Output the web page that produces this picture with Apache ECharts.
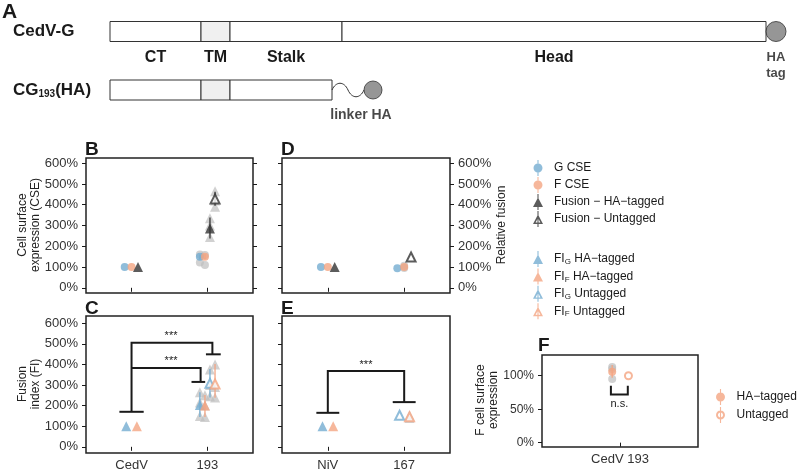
<!DOCTYPE html>
<html>
<head>
<meta charset="utf-8">
<script src="https://cdn.jsdelivr.net/npm/echarts@6/dist/echarts.min.js"></script>
<style>
  html, body { margin: 0; padding: 0; background: #fff; }
  #chart { width: 800px; height: 472px; }
</style>
</head>
<body>
<div id="chart"></div>
<script>
// ---------------- data ----------------
// panel A: schematic, domain boundaries along the bar (arbitrary length units)
const cedvDomains = [['CT', 0, 91], ['TM', 91, 120], ['Stalk', 120, 232], ['Head', 232, 656]]
const cg193Domains = [['CT', 0, 91], ['TM', 91, 120], ['Stalk', 120, 222]]
const linkerLen = 32

// panel B: CSE + fusion, CedV vs 193  (values in %)
const bCats = ['CedV', '193']
const bGMean = [100, 150]
const bGErr = [null, [138, 160]]
const bGRaw = [[], [160, 122]]
const bGDodge = [-0.09, -0.1]
const bFMean = [100, 150]
const bFErr = [null, [136, 162]]
const bFRaw = [[], [110, 158]]
const bFDodge = [0, -0.033]
const bFusHAMean = [100, 285]
const bFusHAErr = [null, [238, 338]]
const bFusHARaw = [[], [335, 300, 245]]
const bFusHADodge = [0.085, 0.033]
const bFusUnMean = [null, 428]
const bFusUnErr = [null, [395, 462]]
const bFusUnRaw = [[], [465, 420, 390]]
const bFusUnDodge = [0, 0.1]

// panel D: CSE + fusion, NiV vs 167
const dCats = ['NiV', '167']
const dGMean = [100, 94]
const dGDodge = [-0.09, -0.09]
const dFMean = [100, 100]
const dFRaw = [[], [106, 95]]
const dFDodge = [0, 0]
const dFusHAMean = [100, null]
const dFusHADodge = [0.09, 0]
const dFusUnMean = [null, 148]
const dFusUnDodge = [0, 0.09]

// panel C: fusion index, CedV vs 193
const cCats = ['CedV', '193']
const cGHAMean = [100, 203]
const cGHAErr = [null, [145, 265]]
const cGHARaw = [[], [265, 215, 150]]
const cGHADodge = [-0.07, -0.1]
const cFHAMean = [100, 200]
const cFHAErr = [null, [145, 252]]
const cFHARaw = [[], [250, 200, 145]]
const cFHADodge = [0.07, -0.033]
const cGUnMean = [null, 308]
const cGUnErr = [null, [240, 378]]
const cGUnRaw = [[], [375, 300, 245]]
const cGUnDodge = [0, 0.033]
const cFUnMean = [null, 305]
const cFUnErr = [null, [238, 402]]
const cFUnRaw = [[], [400, 290, 240]]
const cFUnDodge = [0, 0.1]
// brackets: x1, x2, top, foot1, foot2, cap1 from, cap1 to, cap2 from, cap2 to
const cBrackets = [
  [1, 2.065, 505, 170, 449, 0.84, 1.16, 1.98, 2.175],
  [1, 1.91, 383, 383, 315, 1, 1, 1.79, 1.97]
]
const cBracketText = ['***', '***']
const cBracketTextX = [1.52, 1.52]

// panel E: fusion index, NiV vs 167
const eCats = ['NiV', '167']
const eGHAMean = [100, null]
const eGHADodge = [-0.07, 0]
const eFHAMean = [100, null]
const eFHADodge = [0.07, 0]
const eGUnMean = [null, 153]
const eGUnDodge = [0, -0.06]
const eFUnMean = [null, 146]
const eFUnRaw = [[], [140, 152]]
const eFUnDodge = [0, 0.07]
const eBrackets = [[1, 2, 368, 165, 217, 0.85, 1.15, 1.85, 2.15]]
const eBracketText = ['***']
const eBracketTextX = [1.5]

// panel F: F cell surface expression
const fCats = ['CedV 193']
const fHAMean = [106]
const fHAErr = [[97, 116]]
const fHARaw = [[113, 110, 95]]
const fHADodge = [-0.06]
const fUnMean = [100]
const fUnDodge = [0.065]
const fBrackets = [[0.93, 1.06, 72, 85, 85, 0.93, 0.93, 1.06, 1.06]]
const fBracketText = ['n.s.']
const fBracketTextX = [0.995]

const pctTicks = [0, 100, 200, 300, 400, 500, 600]
const fTicks = [0, 50, 100]

// ---------------- styles ----------------
const FONT = '"Liberation Sans", Arial, sans-serif'
const INK = '#1a1a1a'
const BLUE = '#74add1'
const ORANGE = '#f4a582'
const DARK = '#333333'
const GREY = '#bdbdbd'

const rawSeries = []
const errSeries = []
const meanSeries = []

function addGroup(p, name, shape, color, hollow, mean, err, raw, dodge) {
  const xs = mean.map((m, i) => i + 1 + dodge[i])
  const size = shape === 'circle' ? 8 : 10
  if (raw) {
    rawSeries.push({
      type: 'scatter', xAxisIndex: p, yAxisIndex: p, symbol: shape, symbolSize: size,
      silent: true, z: 2, itemStyle: { color: GREY, opacity: 0.7 },
      data: raw.flatMap((vals, i) => vals.map(v => [xs[i], v]))
    })
  }
  if (err) {
    errSeries.push({
      type: 'custom', xAxisIndex: p, yAxisIndex: p, silent: true, z: 3,
      data: err.map((e, i) => e && [xs[i], e[0], e[1]]).filter(Boolean),
      renderItem: (params, api) => {
        const a = api.coord([api.value(0), api.value(1)])
        const b = api.coord([api.value(0), api.value(2)])
        return { type: 'line', shape: { x1: a[0], y1: a[1], x2: b[0], y2: b[1] },
          style: { stroke: color, lineWidth: 1.5, opacity: 0.85 } }
      }
    })
  }
  meanSeries.push({
    type: 'scatter', name, xAxisIndex: p, yAxisIndex: p, symbol: shape,
    symbolSize: hollow ? size - 1 : size, z: 4, clip: false,
    itemStyle: hollow ? { color: '#fff', borderColor: color, borderWidth: 2 } : { color },
    data: mean.map((m, i) => m != null && [xs[i], m]).filter(Boolean)
  })
}

function bracketSeries(p, rows, texts, textX, below) {
  return {
    type: 'custom', xAxisIndex: p, yAxisIndex: p, silent: true, z: 5, clip: false,
    data: rows,
    renderItem: (params, api) => {
      const v = i => api.value(i)
      const c = (x, y) => api.coord([x, y])
      const f1 = c(v(0), v(3)), t1 = c(v(0), v(2)), t2 = c(v(1), v(2)), f2 = c(v(1), v(4))
      const a1 = c(v(5), v(3)), b1 = c(v(6), v(3)), a2 = c(v(7), v(4)), b2 = c(v(8), v(4))
      const lab = c(textX[params.dataIndex], v(2))
      const ls = { stroke: INK, lineWidth: 2, fill: null }
      return { type: 'group', children: [
        { type: 'polyline', shape: { points: [f1, t1, t2, f2] }, style: ls },
        { type: 'line', shape: { x1: a1[0], y1: a1[1], x2: b1[0], y2: b1[1] }, style: ls },
        { type: 'line', shape: { x1: a2[0], y1: a2[1], x2: b2[0], y2: b2[1] }, style: ls },
        { type: 'text', x: lab[0], y: lab[1] + (below ? 4 : -1),
          style: { text: texts[params.dataIndex], fill: INK, font: '11px ' + FONT,
            align: 'center', verticalAlign: below ? 'top' : 'bottom' } }
      ] }
    }
  }
}

// panel B
addGroup(1, 'G CSE', 'circle', BLUE, false, bGMean, bGErr, bGRaw, bGDodge)
addGroup(1, 'F CSE', 'circle', ORANGE, false, bFMean, bFErr, bFRaw, bFDodge)
addGroup(1, 'Fusion − HA−tagged', 'triangle', DARK, false, bFusHAMean, bFusHAErr, bFusHARaw, bFusHADodge)
addGroup(1, 'Fusion − Untagged', 'triangle', DARK, true, bFusUnMean, bFusUnErr, bFusUnRaw, bFusUnDodge)
// panel D
addGroup(3, 'G CSE', 'circle', BLUE, false, dGMean, null, null, dGDodge)
addGroup(3, 'F CSE', 'circle', ORANGE, false, dFMean, null, dFRaw, dFDodge)
addGroup(3, 'Fusion − HA−tagged', 'triangle', DARK, false, dFusHAMean, null, null, dFusHADodge)
addGroup(3, 'Fusion − Untagged', 'triangle', DARK, true, dFusUnMean, null, null, dFusUnDodge)
// panel C
addGroup(2, 'FI_G HA−tagged', 'triangle', BLUE, false, cGHAMean, cGHAErr, cGHARaw, cGHADodge)
addGroup(2, 'FI_F HA−tagged', 'triangle', ORANGE, false, cFHAMean, cFHAErr, cFHARaw, cFHADodge)
addGroup(2, 'FI_G Untagged', 'triangle', BLUE, true, cGUnMean, cGUnErr, cGUnRaw, cGUnDodge)
addGroup(2, 'FI_F Untagged', 'triangle', ORANGE, true, cFUnMean, cFUnErr, cFUnRaw, cFUnDodge)
// panel E
addGroup(4, 'FI_G HA−tagged', 'triangle', BLUE, false, eGHAMean, null, null, eGHADodge)
addGroup(4, 'FI_F HA−tagged', 'triangle', ORANGE, false, eFHAMean, null, null, eFHADodge)
addGroup(4, 'FI_G Untagged', 'triangle', BLUE, true, eGUnMean, null, null, eGUnDodge)
addGroup(4, 'FI_F Untagged', 'triangle', ORANGE, true, eFUnMean, null, eFUnRaw, eFUnDodge)
// panel F
addGroup(5, 'HA−tagged', 'circle', ORANGE, false, fHAMean, fHAErr, fHARaw, fHADodge)
addGroup(5, 'Untagged', 'circle', ORANGE, true, fUnMean, null, null, fUnDodge)

// ---------------- panel A (schematic) ----------------
const domainData = cedvDomains.map(d => [d[1], d[2], 0, d[0]])
  .concat(cg193Domains.map(d => [d[1], d[2], 1, '']))
const cedvEnd = cedvDomains[cedvDomains.length - 1][2]
const cgEnd = cg193Domains[cg193Domains.length - 1][2]

const schematicSeries = [
  {
    type: 'custom', xAxisIndex: 0, yAxisIndex: 0, silent: true, clip: false,
    data: domainData,
    renderItem: (params, api) => {
      const row = api.value(2)
      const name = domainData[params.dataIndex][3]
      const p0 = api.coord([api.value(0), row ? 59 : 0.5])
      const p1 = api.coord([api.value(1), row ? 79 : 20.5])
      const kids = [{ type: 'rect', shape: { x: p0[0], y: p0[1], width: p1[0] - p0[0], height: p1[1] - p0[1] },
        style: { fill: name === 'TM' || (row && params.dataIndex === 5) ? '#f0f0f0' : '#fff', stroke: '#333', lineWidth: 1 } }]
      if (name) {
        const lp = api.coord([(api.value(0) + api.value(1)) / 2, 37])
        kids.push({ type: 'text', x: lp[0], y: lp[1],
          style: { text: name, font: 'bold 16px ' + FONT, fill: INK, align: 'center', verticalAlign: 'middle' } })
      }
      return { type: 'group', children: kids }
    }
  },
  {
    // linker wave
    type: 'custom', xAxisIndex: 0, yAxisIndex: 0, silent: true, clip: false,
    data: [[cgEnd, cgEnd + linkerLen, 69]],
    renderItem: (params, api) => {
      const a = api.coord([api.value(0), api.value(2)])
      const b = api.coord([api.value(1), api.value(2)])
      const m = (a[0] + b[0]) / 2, q = (b[0] - a[0]) / 8, y = a[1]
      const d = `M${a[0]},${y} C${a[0] + q},${y - 9} ${m - q},${y - 9} ${m},${y} C${m + q},${y + 9} ${b[0] - q},${y + 9} ${b[0]},${y}`
      return { type: 'path', shape: { pathData: d }, style: { stroke: '#333', lineWidth: 1, fill: null } }
    }
  },
  {
    type: 'scatter', xAxisIndex: 0, yAxisIndex: 0, silent: true, clip: false, symbolSize: 20,
    itemStyle: { color: '#7c7c7c', borderColor: '#333', borderWidth: 1 },
    label: { show: true, position: 'bottom', distance: 7, formatter: 'HA\ntag',
      fontWeight: 'bold', fontSize: 13, color: INK, lineHeight: 16 },
    data: [[cedvEnd + 10, 10.5]]
  },
  {
    type: 'scatter', xAxisIndex: 0, yAxisIndex: 0, silent: true, clip: false, symbolSize: 18,
    itemStyle: { color: '#7c7c7c', borderColor: '#333', borderWidth: 1 },
    label: { show: true, position: 'bottom', distance: 9, offset: [-12, 0], formatter: 'linker HA',
      fontWeight: 'bold', fontSize: 14, color: INK },
    data: [[cgEnd + linkerLen + 9, 69]]
  }
]

// ---------------- axes ----------------
const tickStyle = { show: true, length: 4, lineStyle: { color: INK, width: 1 } }
const labelStyle = { fontSize: 13, color: '#333', fontFamily: FONT }
const boxGrid = { show: true, borderColor: '#222', borderWidth: 1.5, backgroundColor: 'transparent' }

function xAx(p, cats, labeled, max) {
  const ticks = cats.map((c, i) => i + 1)
  return { gridIndex: p, type: 'value', min: 0.4, max,
    axisLine: { show: false }, splitLine: { show: false },
    axisTick: Object.assign({ customValues: ticks }, tickStyle),
    axisLabel: Object.assign({ show: labeled, customValues: ticks, margin: 6,
      formatter: v => cats[Math.round(v) - 1] }, labelStyle) }
}
function yAx(p, min, max, ticks, pos, labeled, fs) {
  return { gridIndex: p, type: 'value', min, max, position: pos,
    axisLine: { show: false }, splitLine: { show: false },
    axisTick: Object.assign({ customValues: ticks }, tickStyle),
    axisLabel: Object.assign({}, labelStyle, { show: labeled, customValues: ticks, margin: 8,
      fontSize: fs || 13, formatter: v => v + '%' }) }
}
// rotated axis titles
const axisTitle = (x, y, text) => ({ type: 'text', x, y, rotation: Math.PI / 2,
  style: { text, font: '12px ' + FONT, fill: '#222', lineHeight: 13, align: 'center', verticalAlign: 'middle' } })

const circleLine = 'path://M0.5,8C0.5,5.5 2.5,3.5 5,3.5C7.5,3.5 9.5,5.5 9.5,8C9.5,10.5 7.5,12.5 5,12.5C2.5,12.5 0.5,10.5 0.5,8Z M4.45,0L5.55,0L5.55,16L4.45,16Z'
const hollowCircleLine = circleLine + ' M2.5,8C2.5,9.4 3.6,10.5 5,10.5C6.4,10.5 7.5,9.4 7.5,8C7.5,6.6 6.4,5.5 5,5.5C3.6,5.5 2.5,6.6 2.5,8Z'
const triLine = 'path://M0,13L5,3.5L10,13Z M4.45,0L5.55,0L5.55,16L4.45,16Z'
const hollowTriLine = triLine + ' M2.6,11.6L7.4,11.6L5,7Z'
const legItem = (name, icon, color) => ({ name, icon, itemStyle: { color, borderWidth: 0 } })
const legBase = { orient: 'vertical', itemWidth: 22, itemHeight: 16, padding: 0, selectedMode: false,
  textStyle: { fontSize: 12, color: INK, fontFamily: FONT, lineHeight: 14,
    rich: { s: { fontSize: 8, fontFamily: FONT, color: INK, verticalAlign: 'bottom', lineHeight: 14 } } } }

const option = {
  animation: false,
  textStyle: { fontFamily: FONT },
  grid: [
    { left: 110, top: 21, width: 656, height: 80 },
    Object.assign({ left: 86, top: 158, width: 167, height: 135 }, boxGrid),
    Object.assign({ left: 86, top: 316, width: 167, height: 137 }, boxGrid),
    Object.assign({ left: 282, top: 158, width: 168, height: 135 }, boxGrid),
    Object.assign({ left: 282, top: 316, width: 168, height: 137 }, boxGrid),
    Object.assign({ left: 542, top: 355, width: 156, height: 92 }, boxGrid)
  ],
  xAxis: [
    { gridIndex: 0, type: 'value', min: 0, max: 656, show: false },
    xAx(1, bCats, false, 2.6),
    xAx(2, cCats, true, 2.6),
    xAx(3, dCats, false, 2.6),
    xAx(4, eCats, true, 2.6),
    xAx(5, fCats, true, 1.6)
  ],
  yAxis: [
    { gridIndex: 0, type: 'value', min: 0, max: 80, inverse: true, show: false },
    yAx(1, -25, 625, pctTicks, 'left', true),
    yAx(2, -30, 635, pctTicks, 'left', true),
    yAx(3, -25, 625, pctTicks, 'left', false),
    yAx(4, -30, 635, pctTicks, 'left', false),
    yAx(5, -6.5, 131, fTicks, 'left', true, 12),
    yAx(1, -25, 625, pctTicks, 'right', false),
    yAx(3, -25, 625, pctTicks, 'right', true)
  ],
  legend: [
    Object.assign({ left: 533, top: 160, itemGap: 1, data: [
      legItem('G CSE', circleLine, BLUE),
      legItem('F CSE', circleLine, ORANGE),
      legItem('Fusion − HA−tagged', triLine, DARK),
      legItem('Fusion − Untagged', hollowTriLine, DARK)
    ] }, legBase),
    Object.assign({ left: 533, top: 251, itemGap: 1.4,
      formatter: n => n.replace(/FI_(G|F)/, 'FI{s|$1}'),
      data: [
        legItem('FI_G HA−tagged', triLine, BLUE),
        legItem('FI_F HA−tagged', triLine, ORANGE),
        legItem('FI_G Untagged', hollowTriLine, BLUE),
        legItem('FI_F Untagged', hollowTriLine, ORANGE)
      ] }, legBase),
    Object.assign({ left: 716, top: 389, itemGap: 2, data: [
      legItem('HA−tagged', circleLine, ORANGE),
      legItem('Untagged', hollowCircleLine, ORANGE)
    ] }, legBase)
  ],
  graphic: [
    { type: 'text', left: 2, top: 2, style: { text: 'A', font: 'bold 21px ' + FONT, fill: INK } },
    { type: 'text', left: 85, top: 140, style: { text: 'B', font: 'bold 19px ' + FONT, fill: INK } },
    { type: 'text', left: 85, top: 299, style: { text: 'C', font: 'bold 19px ' + FONT, fill: INK } },
    { type: 'text', left: 281, top: 140, style: { text: 'D', font: 'bold 19px ' + FONT, fill: INK } },
    { type: 'text', left: 281, top: 299, style: { text: 'E', font: 'bold 19px ' + FONT, fill: INK } },
    { type: 'text', left: 538, top: 336, style: { text: 'F', font: 'bold 19px ' + FONT, fill: INK } },
    { type: 'text', left: 13, top: 23, style: { text: 'CedV-G', font: 'bold 17px ' + FONT, fill: INK } },
    { type: 'text', left: 13, top: 81, style: { text: 'CG{s|193}(HA)', fontSize: 17, fontWeight: 'bold',
      fontFamily: FONT, fill: INK, lineHeight: 18,
      rich: { s: { fontSize: 10, fontWeight: 'bold', fontFamily: FONT, fill: INK, verticalAlign: 'bottom', lineHeight: 18 } } } },
    axisTitle(29, 225, 'Cell surface\nexpression (CSE)'),
    axisTitle(29, 384, 'Fusion\nindex (FI)'),
    axisTitle(502, 225, 'Relative fusion'),
    axisTitle(487, 400, 'F cell surface\nexpression')
  ],
  series: schematicSeries
    .concat(rawSeries, errSeries, meanSeries)
    .concat([
      bracketSeries(2, cBrackets, cBracketText, cBracketTextX, false),
      bracketSeries(4, eBrackets, eBracketText, eBracketTextX, false),
      bracketSeries(5, fBrackets, fBracketText, fBracketTextX, true)
    ])
}

const chart = echarts.init(document.getElementById('chart'), null, { renderer: 'canvas' })
chart.setOption(option)
</script>
</body>
</html>
